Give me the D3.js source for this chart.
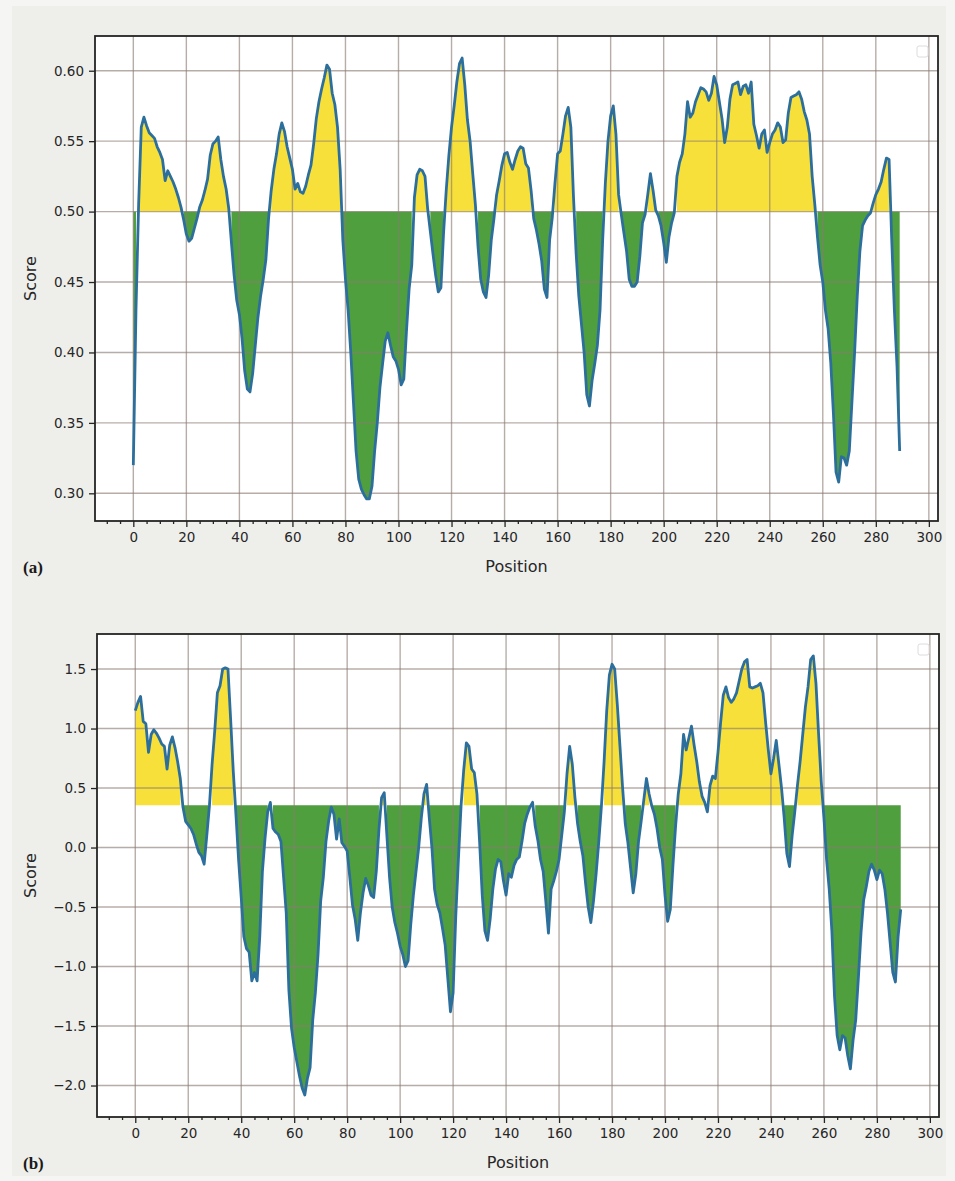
<!DOCTYPE html>
<html>
<head>
<meta charset="utf-8">
<script src="https://cdn.jsdelivr.net/npm/d3@7"></script>
<style>
  body { margin: 0; background: #f5f5f3; }
  svg { display: block; }
</style>
</head>
<body>
<svg id="fig" width="955" height="1181"></svg>
<script>
// Per-residue score profile (a), positions 0..289
const scoreA = [
  0.320, 0.430, 0.505, 0.560, 0.567, 0.561, 0.556, 0.554, 0.552, 0.546,
  0.542, 0.537, 0.522, 0.529, 0.525, 0.521, 0.516, 0.510, 0.503, 0.494,
  0.484, 0.479, 0.481, 0.488, 0.495, 0.503, 0.508, 0.515, 0.523, 0.540,
  0.548, 0.550, 0.553, 0.537, 0.525, 0.516, 0.502, 0.478, 0.455, 0.437,
  0.427, 0.410, 0.387, 0.374, 0.372, 0.385, 0.405, 0.425, 0.440, 0.452,
  0.466, 0.495, 0.515, 0.530, 0.541, 0.555, 0.563, 0.557, 0.546, 0.538,
  0.530, 0.516, 0.520, 0.514, 0.513, 0.518, 0.526, 0.533, 0.548, 0.566,
  0.578, 0.587, 0.595, 0.604, 0.601, 0.584, 0.576, 0.560, 0.530, 0.480,
  0.452, 0.430, 0.400, 0.365, 0.330, 0.310, 0.303, 0.299, 0.296, 0.296,
  0.305, 0.330, 0.350, 0.375, 0.392, 0.408, 0.414, 0.405, 0.397, 0.394,
  0.388, 0.377, 0.381, 0.415, 0.445, 0.462, 0.510, 0.526, 0.530, 0.529,
  0.525, 0.502, 0.486, 0.470, 0.455, 0.443, 0.446, 0.485, 0.515, 0.540,
  0.560, 0.575, 0.592, 0.605, 0.609, 0.590, 0.565, 0.550, 0.527, 0.505,
  0.475, 0.452, 0.443, 0.439, 0.455, 0.480, 0.495, 0.512, 0.522, 0.533,
  0.541, 0.542, 0.535, 0.530, 0.537, 0.543, 0.546, 0.545, 0.534, 0.531,
  0.515, 0.495, 0.487, 0.477, 0.465, 0.445, 0.439, 0.480, 0.496, 0.520,
  0.541, 0.543, 0.555, 0.568, 0.574, 0.560, 0.510, 0.470, 0.440, 0.420,
  0.400, 0.370, 0.362, 0.380, 0.392, 0.405, 0.430, 0.480, 0.520, 0.550,
  0.568, 0.575, 0.555, 0.512, 0.498, 0.485, 0.472, 0.452, 0.447, 0.447,
  0.450, 0.468, 0.492, 0.498, 0.512, 0.527, 0.515, 0.501, 0.497, 0.490,
  0.478, 0.464, 0.482, 0.492, 0.499, 0.525, 0.535, 0.541, 0.555, 0.578,
  0.567, 0.570, 0.578, 0.583, 0.588, 0.587, 0.585, 0.579, 0.584, 0.596,
  0.590, 0.578, 0.566, 0.549, 0.560, 0.580, 0.590, 0.591, 0.592, 0.583,
  0.589, 0.590, 0.584, 0.592, 0.562, 0.554, 0.545, 0.555, 0.558, 0.542,
  0.549, 0.555, 0.558, 0.563, 0.560, 0.549, 0.551, 0.570, 0.581, 0.582,
  0.583, 0.585, 0.580, 0.571, 0.565, 0.555, 0.525, 0.505, 0.482, 0.462,
  0.450, 0.430, 0.417, 0.393, 0.357, 0.315, 0.308, 0.326, 0.325, 0.320,
  0.330, 0.365, 0.400, 0.440, 0.472, 0.490, 0.494, 0.497, 0.499, 0.506,
  0.512, 0.516, 0.521, 0.530, 0.538, 0.537, 0.480, 0.430, 0.390, 0.330
];

// Per-residue score profile (b), positions 0..289
const scoreB = [
  1.15, 1.22, 1.27, 1.06, 1.04, 0.80, 0.95, 0.99, 0.96, 0.92,
  0.87, 0.85, 0.66, 0.86, 0.93, 0.84, 0.72, 0.58, 0.34, 0.22,
  0.19, 0.16, 0.11, 0.03, -0.04, -0.07, -0.14, 0.10, 0.35, 0.70,
  0.98, 1.30, 1.36, 1.50, 1.51, 1.50, 1.08, 0.64, 0.28, -0.10,
  -0.42, -0.75, -0.85, -0.88, -1.12, -1.05, -1.12, -0.75, -0.20, 0.08,
  0.30, 0.38, 0.16, 0.13, 0.11, 0.05, -0.25, -0.55, -1.20, -1.52,
  -1.68, -1.80, -1.92, -2.02, -2.08, -1.94, -1.85, -1.45, -1.22, -0.90,
  -0.45, -0.25, 0.05, 0.22, 0.34, 0.28, 0.07, 0.24, 0.04, 0.01,
  -0.03, -0.25, -0.48, -0.60, -0.78, -0.55, -0.38, -0.26, -0.32, -0.40,
  -0.42, -0.20, 0.15, 0.42, 0.46, 0.10, -0.25, -0.50, -0.63, -0.72,
  -0.83, -0.90, -1.00, -0.95, -0.65, -0.40, -0.20, 0.00, 0.25, 0.45,
  0.53, 0.25, 0.00, -0.35, -0.48, -0.55, -0.68, -0.82, -1.10, -1.38,
  -1.22, -0.58, -0.10, 0.35, 0.65, 0.88, 0.85, 0.66, 0.63, 0.45,
  0.05, -0.40, -0.70, -0.78, -0.60, -0.35, -0.18, -0.10, -0.12, -0.28,
  -0.40, -0.22, -0.25, -0.15, -0.10, -0.08, 0.05, 0.20, 0.28, 0.34,
  0.38, 0.18, 0.06, -0.10, -0.20, -0.45, -0.72, -0.35, -0.28, -0.20,
  -0.10, 0.10, 0.30, 0.62, 0.85, 0.70, 0.42, 0.20, 0.05, -0.07,
  -0.30, -0.50, -0.63, -0.45, -0.22, 0.05, 0.35, 0.72, 1.15, 1.45,
  1.54, 1.50, 1.20, 0.85, 0.50, 0.20, 0.04, -0.17, -0.38, -0.22,
  0.05, 0.22, 0.40, 0.58, 0.45, 0.35, 0.28, 0.16, 0.00, -0.10,
  -0.40, -0.62, -0.52, -0.15, 0.18, 0.45, 0.62, 0.95, 0.82, 0.92,
  1.02, 0.86, 0.72, 0.55, 0.43, 0.38, 0.30, 0.52, 0.60, 0.58,
  0.80, 1.05, 1.28, 1.35, 1.26, 1.22, 1.25, 1.30, 1.40, 1.50,
  1.56, 1.58, 1.35, 1.34, 1.35, 1.36, 1.38, 1.30, 1.05, 0.82,
  0.62, 0.75, 0.90, 0.70, 0.50, 0.25, -0.05, -0.16, 0.10, 0.30,
  0.52, 0.72, 0.95, 1.18, 1.35, 1.58, 1.61, 1.38, 0.95, 0.55,
  0.25, -0.10, -0.35, -0.70, -1.25, -1.58, -1.70, -1.58, -1.60, -1.75,
  -1.86, -1.62, -1.45, -1.10, -0.72, -0.44, -0.33, -0.20, -0.14, -0.19,
  -0.27, -0.19, -0.22, -0.35, -0.55, -0.80, -1.05, -1.13, -0.75, -0.52
];

const thresholdA = 0.5;
const thresholdB = 0.355;

const xTicks = [0, 20, 40, 60, 80, 100, 120, 140, 160, 180, 200, 220, 240, 260, 280, 300];
const xMinorTicks = [-10, -5, 5, 10, 15, 25, 30, 35, 45, 50, 55, 65, 70, 75, 85, 90, 95,
  105, 110, 115, 125, 130, 135, 145, 150, 155, 165, 170, 175, 185, 190, 195,
  205, 210, 215, 225, 230, 235, 245, 250, 255, 265, 270, 275, 285, 290, 295];
const yTicksA = [0.30, 0.35, 0.40, 0.45, 0.50, 0.55, 0.60];
const yTicksB = [-2.0, -1.5, -1.0, -0.5, 0.0, 0.5, 1.0, 1.5];

const COLORS = {
  above: "#f7e03a",
  below: "#4f9f3f",
  line: "#2d6f9c",
  grid: "#8a7a72",
  spine: "#242424",
  text: "#262626"
};

const svg = d3.select("#fig");
svg.append("rect").attr("x", 0).attr("y", 0).attr("width", 955).attr("height", 1181).attr("fill", "#f5f5f3");
svg.append("rect").attr("x", 12).attr("y", 6).attr("width", 934).attr("height", 1170).attr("fill", "#eeeeeb");

function padded(extent) {
  const span = extent[1] - extent[0];
  return [extent[0] - 0.05 * span, extent[1] + 0.05 * span];
}

function drawPanel(cfg) {
  const { box, values, threshold, yTicks, fmt, tag } = cfg;
  const data = values.map((v, i) => ({ pos: i, v }));
  const x = d3.scaleLinear().domain(padded([0, values.length - 1])).range([box.left, box.right]);
  const y = d3.scaleLinear().domain(padded(d3.extent(values))).range([box.bottom, box.top]);

  const g = svg.append("g");

  // plot background
  g.append("rect")
    .attr("x", box.left).attr("y", box.top)
    .attr("width", box.right - box.left).attr("height", box.bottom - box.top)
    .attr("fill", "#ffffff");

  const clipId = "clip-" + tag.replace(/[()]/g, "");
  svg.append("clipPath").attr("id", clipId).append("rect")
    .attr("x", box.left).attr("y", box.top)
    .attr("width", box.right - box.left).attr("height", box.bottom - box.top);
  const plot = g.append("g").attr("clip-path", `url(#${clipId})`);

  // fills above / below threshold (segments only where condition holds)
  const areaAbove = d3.area()
    .defined(d => d.v > threshold)
    .x(d => x(d.pos)).y0(y(threshold)).y1(d => y(d.v));
  const areaBelow = d3.area()
    .defined(d => d.v < threshold)
    .x(d => x(d.pos)).y0(y(threshold)).y1(d => y(d.v));
  plot.append("path").attr("d", areaAbove(data)).attr("fill", COLORS.above);
  plot.append("path").attr("d", areaBelow(data)).attr("fill", COLORS.below);

  // grid drawn over the fills
  const grid = plot.append("g").attr("stroke", COLORS.grid).attr("stroke-opacity", 0.62).attr("stroke-width", 1.4);
  xTicks.forEach(t => {
    grid.append("line").attr("x1", x(t)).attr("x2", x(t)).attr("y1", box.top).attr("y2", box.bottom);
  });
  yTicks.forEach(t => {
    grid.append("line").attr("x1", box.left).attr("x2", box.right).attr("y1", y(t)).attr("y2", y(t));
  });

  // score line
  const line = d3.line().x(d => x(d.pos)).y(d => y(d.v));
  plot.append("path").attr("d", line(data))
    .attr("fill", "none").attr("stroke", COLORS.line)
    .attr("stroke-width", 2.8).attr("stroke-linejoin", "round");

  // empty legend frame
  g.append("rect")
    .attr("x", box.right - 21).attr("y", box.top + 10)
    .attr("width", 11).attr("height", 11).attr("rx", 2)
    .attr("fill", "#ffffff").attr("stroke", "#dcdcdc").attr("stroke-width", 1);

  // spines
  g.append("rect")
    .attr("x", box.left).attr("y", box.top)
    .attr("width", box.right - box.left).attr("height", box.bottom - box.top)
    .attr("fill", "none").attr("stroke", COLORS.spine).attr("stroke-width", 1.8);

  // x axis
  const xAxis = d3.axisBottom(x).tickValues(xTicks).tickSize(6).tickPadding(5).tickFormat(d3.format("d"));
  const xg = g.append("g").attr("transform", `translate(0,${box.bottom})`).call(xAxis);
  const xMinor = d3.axisBottom(x).tickValues(xMinorTicks).tickSize(3).tickFormat("");
  const xmg = g.append("g").attr("transform", `translate(0,${box.bottom})`).call(xMinor);

  // y axis
  const yAxis = d3.axisLeft(y).tickValues(yTicks).tickSize(6).tickPadding(5).tickFormat(d3.format(fmt));
  const yg = g.append("g").attr("transform", `translate(${box.left},0)`).call(yAxis);

  [xg, xmg, yg].forEach(a => {
    a.select(".domain").remove();
    a.selectAll(".tick line").attr("stroke", COLORS.spine).attr("stroke-width", 1.3);
    a.selectAll(".tick text")
      .attr("fill", COLORS.text)
      .style("font-family", "'DejaVu Sans', sans-serif")
      .style("font-size", "13.5px");
  });

  // axis titles
  g.append("text")
    .attr("x", (box.left + box.right) / 2).attr("y", box.bottom + 51)
    .attr("text-anchor", "middle").attr("fill", COLORS.text)
    .style("font-family", "'DejaVu Sans', sans-serif").style("font-size", "16px")
    .text("Position");
  g.append("text")
    .attr("transform", `translate(36,${(box.top + box.bottom) / 2}) rotate(-90)`)
    .attr("text-anchor", "middle").attr("fill", COLORS.text)
    .style("font-family", "'DejaVu Sans', sans-serif").style("font-size", "16px")
    .text("Score");

  // panel tag
  g.append("text")
    .attr("x", 23).attr("y", box.bottom + 52)
    .attr("fill", "#1a1a1a")
    .style("font-family", "'Liberation Serif', 'DejaVu Serif', serif")
    .style("font-size", "17px").style("font-weight", "bold")
    .text(tag);
}

drawPanel({
  box: { left: 95, right: 938, top: 36, bottom: 521 },
  values: scoreA, threshold: thresholdA, yTicks: yTicksA, fmt: ".2f", tag: "(a)"
});
drawPanel({
  box: { left: 97, right: 939, top: 634, bottom: 1117 },
  values: scoreB, threshold: thresholdB, yTicks: yTicksB, fmt: ".1f", tag: "(b)"
});
</script>
</body>
</html>
